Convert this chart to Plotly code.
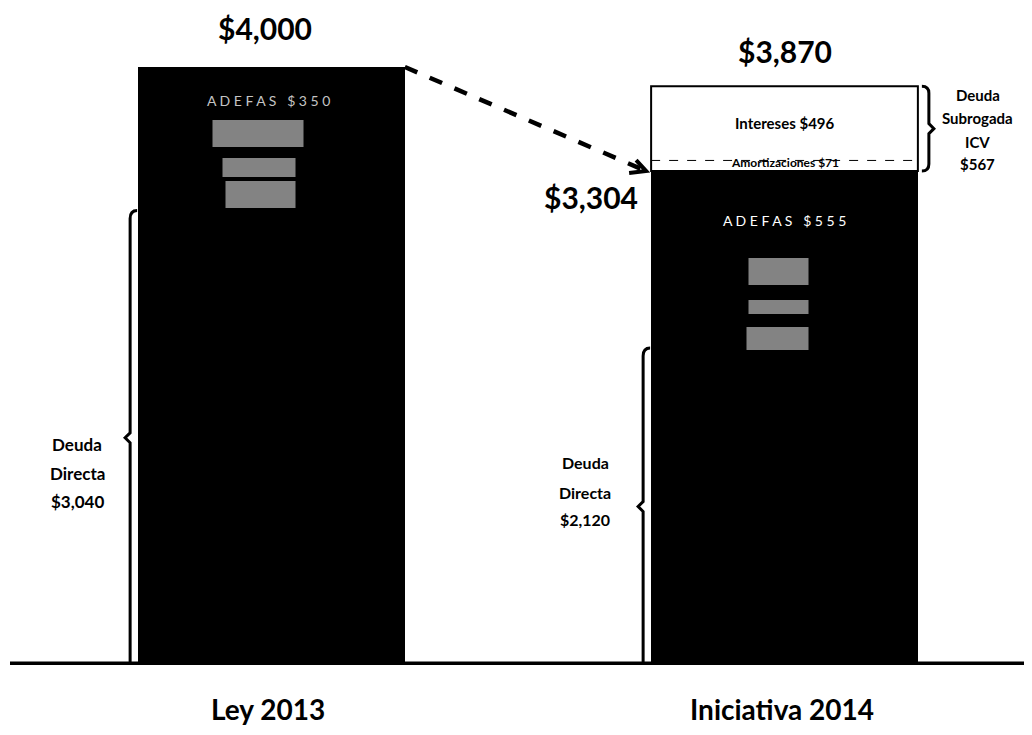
import plotly.graph_objects as go

# ---------------- data ----------------
categories = ["Ley 2013", "Iniciativa 2014"]
cat_pos = [0, 1]
deuda_directa = [3040, 2120]
adefas = [350, 555]
otros = [610, 629]            # remaining (illegible) black segments
amortizaciones_icv = [0, 71]
intereses_icv = [0, 496]
totals = [4000, 3870]
subtotal_2014 = 3304
subrogada_icv = 567

deuda_labels = ["$3,040", "$2,120"]
adefas_labels = ["A D E F A S   $ 3 5 0", "A D E F A S   $ 5 5 5"]
total_labels = ["$4,000", "$3,870"]

BAR_W = 0.52
FONT = "Lato"

# page has an 8px body margin: figure is drawn 8px right/down of the screen origin
OFF = 8
FIG_W, FIG_H = 1032 - 2 * OFF, 735 - 2 * OFF
PX_X = 513.0                  # px per category unit
X0_PX = 271.5 - OFF           # x px (in figure) of category 0
PX_Y = 0.1495                 # px per value unit
BASE_PX = 665.0 - OFF         # y px (in figure) of value 0
YMAX = BASE_PX / PX_Y

fig = go.Figure()

for name, vals in [("Deuda Directa", deuda_directa), ("ADEFAS", adefas), ("Otros", otros)]:
    fig.add_trace(go.Bar(x=cat_pos, y=vals, name=name, width=BAR_W,
                         marker=dict(color="#000000", line=dict(color="#000000", width=1)),
                         hoverinfo="name+y"))
for name, vals in [("Amortizaciones ICV", amortizaciones_icv), ("Intereses ICV", intereses_icv)]:
    fig.add_trace(go.Bar(x=cat_pos, y=vals, name=name, width=BAR_W,
                         marker=dict(color="#ffffff", line=dict(width=0)),
                         hoverinfo="name+y"))


def dx(px):
    return px / PX_X


def dy(px):
    return px / PX_Y


shapes = []
annots = []

# baseline
shapes.append(dict(type="line", xref="paper", yref="y", x0=2 / FIG_W, x1=1.0, y0=0, y1=0,
                   line=dict(color="#000000", width=7)))

# white box outline and dashed divider for ICV
bx0, bx1 = cat_pos[1] - BAR_W / 2, cat_pos[1] + BAR_W / 2
box_bottom = subtotal_2014
box_top = subtotal_2014 + amortizaciones_icv[1] + intereses_icv[1]
shapes.append(dict(type="rect", xref="x", yref="y", x0=bx0, x1=bx1, y0=box_bottom, y1=box_top,
                   line=dict(color="#000000", width=2), fillcolor="rgba(0,0,0,0)"))
div_y = subtotal_2014 + amortizaciones_icv[1]
shapes.append(dict(type="line", xref="x", yref="y", x0=bx0, x1=bx1, y0=div_y, y1=div_y,
                   line=dict(color="#000000", width=1, dash="dash")))

# brackets for Deuda Directa
for i, c in enumerate(cat_pos):
    xb = c - BAR_W / 2 - dx(8)
    top = deuda_directa[i]
    mid = top / 2
    path = (f"M {xb + dx(7)},{top} Q {xb},{top} {xb},{top - dy(8)} "
            f"L {xb},{mid + dy(5)} L {xb - dx(5)},{mid} L {xb},{mid - dy(5)} "
            f"L {xb},0 L {xb + dx(6)},0")
    shapes.append(dict(type="path", xref="x", yref="y", path=path,
                       line=dict(color="#000000", width=3)))

# curly bracket for Deuda Subrogada ICV
xr = bx1 + dx(11)
mid_box = (box_bottom + box_top) / 2
path = (f"M {xr - dx(7)},{box_top} Q {xr},{box_top} {xr},{box_top - dy(7)} "
        f"L {xr},{mid_box + dy(5)} L {xr + dx(5)},{mid_box} L {xr},{mid_box - dy(5)} "
        f"L {xr},{box_bottom + dy(7)} Q {xr},{box_bottom} {xr - dx(7)},{box_bottom}")
shapes.append(dict(type="path", xref="x", yref="y", path=path,
                   line=dict(color="#000000", width=3)))

# dashed arrow from Ley 2013 top to Iniciativa 2014 subtotal
ax0, ay0 = cat_pos[0] + BAR_W / 2, totals[0]
ax1, ay1 = cat_pos[1] - BAR_W / 2 - dx(5), subtotal_2014
shapes.append(dict(type="line", xref="x", yref="y", x0=ax0, y0=ay0, x1=ax1, y1=ay1,
                   line=dict(color="#000000", width=4.5, dash="dash")))
head = f"M {ax1 - dx(10)},{ay1 + dy(11)} L {ax1},{ay1} L {ax1 - dx(17)},{ay1 - dy(2)}"
shapes.append(dict(type="path", xref="x", yref="y", path=head,
                   line=dict(color="#000000", width=4)))

# illegible (blurred) text blocks inside the bars: (bar, x-left px, x-right px from centre,
# top/bottom px below bar top)
blobs = [
    (0, -59, 32, 53, 80), (0, -49, 24, 91, 110), (0, -46, 24, 114, 141),
    (1, -36, 24, 87, 114), (1, -36, 24, 129, 143), (1, -38, 24, 156, 179),
]
bar_tops = [totals[0], subtotal_2014]
for ci, xl, xrp, yt, yb in blobs:
    shapes.append(dict(type="rect", xref="x", yref="y",
                       x0=cat_pos[ci] + dx(xl), x1=cat_pos[ci] + dx(xrp),
                       y0=bar_tops[ci] - dy(yb), y1=bar_tops[ci] - dy(yt),
                       line=dict(width=0), fillcolor="rgba(175,175,175,0.75)", layer="above"))

# total labels
annots.append(dict(x=cat_pos[0], y=totals[0], xref="x", yref="y", text=f"<b>{total_labels[0]}</b>",
                   showarrow=False, yshift=39, xshift=-7, font=dict(family=FONT, size=30, color="#000")))
annots.append(dict(x=cat_pos[1], y=totals[1], xref="x", yref="y", text=f"<b>{total_labels[1]}</b>",
                   showarrow=False, yshift=35, font=dict(family=FONT, size=30, color="#000")))
annots.append(dict(x=cat_pos[1] - BAR_W / 2, y=subtotal_2014, xref="x", yref="y",
                   text=f"<b>${subtotal_2014:,}</b>", showarrow=False, xanchor="right",
                   xshift=-11, yshift=-26, font=dict(family=FONT, size=30, color="#000")))

# ADEFAS labels
annots.append(dict(x=cat_pos[0], y=totals[0], xref="x", yref="y", text=adefas_labels[0],
                   showarrow=False, yshift=-33, xshift=-3, font=dict(family=FONT, size=14, color="#c4c4c4")))
annots.append(dict(x=cat_pos[1], y=subtotal_2014, xref="x", yref="y", text=adefas_labels[1],
                   showarrow=False, yshift=-49, font=dict(family=FONT, size=14, color="#ffffff")))

# ICV labels inside white box
annots.append(dict(x=cat_pos[1], y=(div_y + box_top) / 2, xref="x", yref="y",
                   text=f"<b>Intereses ${intereses_icv[1]}</b>", showarrow=False,
                   font=dict(family=FONT, size=15, color="#000")))
annots.append(dict(x=cat_pos[1], y=(box_bottom + div_y) / 2, xref="x", yref="y",
                   text=f"<b>Amortizaciones ${amortizaciones_icv[1]}</b>", showarrow=False,
                   yshift=3, font=dict(family=FONT, size=12, color="#000")))

# Deuda Directa labels
dd_cfg = [(-61, [-7, -36, -64], 17), (-66, [44, 14, -13], 16)]
for i, c in enumerate(cat_pos):
    xs, yshifts, fs = dd_cfg[i]
    lines = ["Deuda", "Directa", deuda_labels[i]]
    for line, ys in zip(lines, yshifts):
        annots.append(dict(x=c - BAR_W / 2, y=deuda_directa[i] / 2, xref="x", yref="y",
                           text=f"<b>{line}</b>", showarrow=False, xshift=xs, yshift=ys,
                           font=dict(family=FONT, size=fs, color="#000")))

# Deuda Subrogada label
for line, ys in zip(["Deuda", "Subrogada", "ICV", f"${subrogada_icv}"], [34, 11, -13, -35]):
    annots.append(dict(x=bx1, y=mid_box, xref="x", yref="y", text=f"<b>{line}</b>",
                       showarrow=False, xshift=60, yshift=ys,
                       font=dict(family=FONT, size=15, color="#000")))

# category labels
for c, lab, xs in zip(cat_pos, categories, [-4, -3]):
    annots.append(dict(x=c, y=0, xref="x", yref="y", text=f"<b>{lab}</b>", showarrow=False,
                       yshift=-44, xshift=xs, borderpad=0,
                       font=dict(family=FONT, size=28, color="#000")))

fig.update_layout(
    barmode="stack",
    width=FIG_W, height=FIG_H,
    margin=dict(l=0, r=0, t=0, b=FIG_H - BASE_PX),
    paper_bgcolor="#ffffff", plot_bgcolor="#ffffff",
    showlegend=False,
    xaxis=dict(range=[-X0_PX / PX_X, (FIG_W - X0_PX) / PX_X], visible=False, fixedrange=True),
    yaxis=dict(range=[0, YMAX], visible=False, fixedrange=True),
    shapes=shapes,
    annotations=annots,
)

fig.write_html("out.html")
